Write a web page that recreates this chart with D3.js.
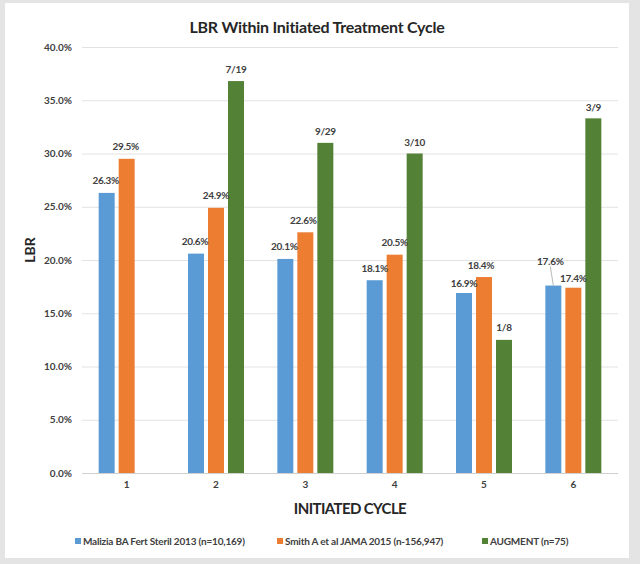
<!DOCTYPE html>
<html><head><meta charset="utf-8">
<script src="https://cdn.jsdelivr.net/npm/d3@7"></script>
<style>
html,body{margin:0;padding:0;background:#e4e4e4;}
svg{display:block;}
text{font-family:Lato,"Open Sans",sans-serif;}
</style></head>
<body>
<script>
const categories = ["1","2","3","4","5","6"];
const seriesNames = ["Malizia BA Fert Steril 2013 (n=10,169)","Smith A et al JAMA 2015 (n-156,947)","AUGMENT (n=75)"];
const malizia = [26.3, 20.6, 20.1, 18.1, 16.9, 17.6];
const smith = [29.5, 24.9, 22.6, 20.5, 18.4, 17.4];
const augment = [null, 36.8, 31.0, 30.0, 12.5, 33.3];
const maliziaLabels = ["26.3%","20.6%","20.1%","18.1%","16.9%","17.6%"];
const smithLabels = ["29.5%","24.9%","22.6%","20.5%","18.4%","17.4%"];
const augmentLabels = ["","7/19","9/29","3/10","1/8","3/9"];
const yTicks = [0,5,10,15,20,25,30,35,40];
const colors = ["#5b9bd5","#ed7d31","#538135"];

const W=640,H=564;
const svg=d3.select("body").append("svg").attr("width",W).attr("height",H);
svg.append("rect").attr("x",0).attr("y",0).attr("width",W).attr("height",H).attr("fill","#e4e4e4");
svg.append("rect").attr("x",5).attr("y",3).attr("width",624).attr("height",555).attr("fill","#ffffff");

const m={l:82,r:618,t:47,b:473};
const x=d3.scaleBand().domain(categories).range([m.l,m.r]);
const y=d3.scaleLinear().domain([0,40]).range([m.b,m.t]);
const barW=16, step=20;
const series=[malizia,smith,augment];
const labels=[maliziaLabels,smithLabels,augmentLabels];

// gridlines
svg.append("g").selectAll("line").data(yTicks).join("line")
  .attr("x1",m.l).attr("x2",m.r).attr("y1",d=>y(d)+0.5).attr("y2",d=>y(d)+0.5)
  .attr("stroke",d=>d===0?"#d0d0d0":"#e2e2e2").attr("stroke-width",1);

// y axis labels
const yAxis=d3.axisLeft(y).tickValues(yTicks).tickFormat(d=>d.toFixed(1)+"%").tickSize(0).tickPadding(10);
const ga=svg.append("g").attr("transform",`translate(${m.l},0)`).call(yAxis);
ga.select(".domain").remove();
ga.selectAll("text").attr("font-size",10).attr("fill","#404040").attr("font-weight","bold").attr("font-family","Lato,sans-serif");

// x axis labels
const xAxis=d3.axisBottom(x).tickSize(0).tickPadding(8);
const gx=svg.append("g").attr("transform",`translate(0,${m.b})`).call(xAxis);
gx.select(".domain").remove();
gx.selectAll("text").attr("font-size",10).attr("fill","#404040").attr("font-weight","bold").attr("font-family","Lato,sans-serif");

// bars
series.forEach((vals,si)=>{
  const off=(si-1)*step-barW/2;
  svg.append("g").selectAll("rect").data(vals.map((v,i)=>({v,c:categories[i]})).filter(d=>d.v!=null)).join("rect")
    .attr("x",d=>x(d.c)+x.bandwidth()/2+off)
    .attr("y",d=>y(d.v)).attr("width",barW).attr("height",d=>y(0)-y(d.v))
    .attr("fill",colors[si]);
});

// data label offsets (dx, dy from bar top center) to mimic the original layout
const labelOffsets=[
  [[-1,-12],[-1,-12],[-1,-12],[0,-12],[0,-10],[-3,-24]],
  [[-1,-12],[0,-12],[-2,-12],[0,-12],[-3,-12],[0,-9]],
  [[0,-12],[0,-12],[0,-11],[0,-11],[0,-12],[0,-11]]
];
series.forEach((vals,si)=>{
  const off=(si-1)*step;
  vals.forEach((v,i)=>{
    if(v==null) return;
    const cx=x(categories[i])+x.bandwidth()/2+off;
    const [dx,dy]=labelOffsets[si][i];
    svg.append("text").attr("x",cx+dx).attr("y",y(v)+dy+3.5)
      .attr("text-anchor","middle").attr("font-size",10).attr("font-weight","bold")
      .attr("fill","#404040").attr("letter-spacing","-0.3").text(labels[si][i]);
  });
});
// leader line for cycle 6 Malizia label
{
  const cx=x("6")+x.bandwidth()/2-step;
  svg.append("line").attr("x1",cx-3).attr("y1",y(malizia[5])-19).attr("x2",cx).attr("y2",y(malizia[5]))
    .attr("stroke","#a6a6a6").attr("stroke-width",0.8);
}

// title
svg.append("text").attr("x",317).attr("y",33).attr("text-anchor","middle")
  .attr("font-size",16).attr("font-weight","bold").attr("fill","#262626").attr("letter-spacing","-0.25")
  .text("LBR Within Initiated Treatment Cycle");
// axis titles
svg.append("text").attr("transform","translate(35,250) rotate(-90)").attr("text-anchor","middle")
  .attr("font-size",14).attr("font-weight","bold").attr("fill","#262626").text("LBR");
svg.append("text").attr("x",350).attr("y",514).attr("text-anchor","middle")
  .attr("font-size",15).attr("font-weight","bold").attr("fill","#262626").attr("letter-spacing","-0.6")
  .text("INITIATED CYCLE");

// legend
const legendX=[75,277,482];
const lg=svg.append("g");
seriesNames.forEach((n,i)=>{
  lg.append("rect").attr("x",legendX[i]).attr("y",538).attr("width",6).attr("height",6).attr("fill",colors[i]);
  lg.append("text").attr("x",legendX[i]+8).attr("y",545).attr("font-size",10).attr("font-weight","bold")
    .attr("fill","#404040").attr("letter-spacing","-0.2").text(n);
});
</script>
</body></html>
